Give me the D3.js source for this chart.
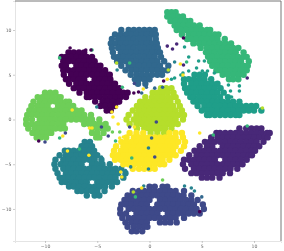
<!DOCTYPE html>
<html>
<head>
<meta charset="utf-8">
<script src="https://cdn.jsdelivr.net/npm/d3@7"></script>
<style>
  html, body { margin: 0; padding: 0; background: #fff; }
  svg { display: block; filter: blur(0.35px); }
</style>
</head>
<body>
<div id="chart"></div>
<script>
// tsne embedding, one list per digit class
// every row is [y, x, x, x...]
const class0 = [
  [7.5,-7.75,-7.25,-6.75,-6.25],
  [7,-8.4,-8,-7.5,-7,-6.5,-6,-5.5],
  [6.5,-8.25,-7.75,-7.25,-6.75,-6.25,-5.75,-5.25],
  [6,-8.4,-8,-7,-6.5,-6,-5.5,-5,-4.7],
  [5.5,-8.25,-7.75,-7.25,-6.75,-6.25,-5.75,-5.25,-4.75,-4.25],
  [5,-8.2,-7.5,-7,-6.5,-6,-5.5,-5,-4.5,-4,-3.8],
  [4.5,-8,-7.75,-7.25,-6.75,-6.25,-5.25,-4.75,-4.25,-3.75],
  [4,-7.7,-7,-6.5,-6,-5.5,-5,-4.5,-4,-3.5,-3.3],
  [3.5,-7.25,-6.75,-6.25,-5.75,-5.25,-4.75,-4.25,-3.75,-3.25,-2.9],
  [3,-6.7,-6,-5.5,-5,-4.5,-4,-3.5,-3,-2.5,-2.1],
  [2.5,-6,-5.75,-5.25,-4.75,-4.25,-3.75,-3.25,-2.75,-2.25],
  [2,-5.2,-4.5,-4,-3.5,-3,-2.9],
  [1.5,-4.7,-4.25,-3.75,-3.3],
  [1,-4.1,-3.7]
];
const class1 = [
  [-1,8.6,9.25,9.75,10.25,10.7],
  [-1.5,6.4,6.75,7.25,7.75,8.25,8.75,9.25,9.75,10.25,10.75,11.25,11.5],
  [-2,5.9,6.5,7,7.5,8,8.5,9,9.5,10,10.5,11,11.3],
  [-2.5,5.3,5.75,6.25,6.75,7.25,7.75,8.25,8.75,9.25,9.75,10.25,10.9],
  [-3,4.8,5.5,6,7,7.5,8,8.5,9,9.5,10,10.5],
  [-3.5,4.3,4.75,5.25,5.75,6.25,6.75,7.25,7.75,8.25,8.75,9.25,9.75,10.1],
  [-4,3.8,4.5,5,5.5,6,6.5,7,7.5,8,8.5,9,9.5,9.8],
  [-4.5,3.3,3.75,4.25,4.75,5.25,5.75,6.25,7.25,7.75,8.25,8.75,9.3],
  [-5,3.2,4,4.5,5,5.5,6,6.5,7,7.5,8,8.5,8.9],
  [-5.5,3.4,4.25,4.75,5.25,5.75,6.25,6.75,7.25,7.75,8.4],
  [-6,4,4.5,5,5.5,6,6.5,7,7.7],
  [-6.5,5,5.5,6,6.7]
];
const class2 = [
  [-7.5,0,0.5,1.25,1.7],
  [-8,-1.6,-1,-0.5,0,0.5,1,1.5,2,2.5,3.3],
  [-8.5,-2.1,-1.75,-1.25,-0.75,-0.25,0.25,0.75,1.25,1.75,2.25,2.75,3.25,4],
  [-9,-2.4,-2,-1.5,-1,-0.5,0,1,1.5,2,2.5,3,3.5,4,4.6],
  [-9.5,-2.7,-2.25,-1.75,-1.25,-0.75,-0.25,0.75,1.25,1.75,2.25,2.75,3.25,3.75,4.25,5.1],
  [-10,-2.8,-2,-1.5,-1,-0.5,0,0.5,1,1.5,2,2.5,3,3.5,4,4.5,5.2],
  [-10.5,-2.8,-2.25,-1.25,-0.75,-0.25,0.25,0.75,1.75,2.25,2.75,3.25,3.75,4.25,4.8],
  [-11,-2.6,-2,-1.5,-1,-0.5,0,0.5,1,1.5,2,2.5,3.3],
  [-11.5,-2.3,-1.75,-1.25,-0.75,-0.25,1,1.5,2,2.6],
  [-12,-2.1,-1.5,-1,-0.5,-0.2],
  [-12.5,-1.7,-1.25,-0.7]
];
const class3 = [
  [10,-2.7,-2,-1.5,-1,-0.5,0,0.5],
  [9.5,-3.3,-2.75,-2.25,-1.75,-1.25,-0.75,-0.25,0.25,0.6],
  [9,-3.6,-3,-2.5,-2,-1.5,-1,-0.5,0,0.6],
  [8.5,-3.7,-3.25,-2.75,-2.25,-1.75,-1.25,-0.75,-0.25,0.25,0.7],
  [8,-3.6,-3,-2.5,-2,-1.5,-1,-0.5,0,0.5,0.8],
  [7.5,-3.5,-2.75,-2.25,-1.75,-1.25,-0.75,-0.25,0.25,0.75,1],
  [7,-3.4,-3,-2.5,-2,-1.5,-1,-0.5,0,0.5,1.1],
  [6.5,-3.1,-2.75,-2.25,-1.75,-1.25,-0.75,-0.25,0.25,0.75,1.4],
  [6,-2.7,-2,-1.5,-1,-0.5,0,0.5,1,1.8],
  [5.5,-2.3,-1.75,-1.25,-0.75,-0.25,0.25,0.75,1.25,1.7],
  [5,-1.8,-1.25,-0.75,-0.25,0.25,0.75,1.2],
  [4.5,-1.4,-1,-0.5,0],
  [4,-1.1,-0.4]
];
const class4 = [
  [-2.5,-6.2,-5.7],
  [-3,-6.5,-6,-5.5],
  [-3.5,-8.1,-7.75,-7.25,-6.75,-6.25,-5.75,-5.3],
  [-4,-8.6,-8,-7.5,-7,-6.5,-6,-5.5,-5],
  [-4.5,-9,-8.25,-7.75,-7.25,-6.75,-6.25,-5.75,-5.25,-4.6],
  [-5,-9.1,-8.5,-8,-7.5,-7,-6.5,-5.5,-5,-4.5,-3.8],
  [-5.5,-9,-8.25,-7.75,-7.25,-6.75,-6.25,-5.75,-5.25,-4.75,-4.25,-3.75,-3.25,-2.7],
  [-6,-8.8,-8,-7.5,-7,-6.5,-6,-5.5,-5,-4.5,-4,-3.5,-3,-2.3],
  [-6.5,-8.6,-8.25,-7.75,-7.25,-6.75,-6.25,-5.75,-5.25,-4.75,-4.25,-3.75,-3.25,-2.5],
  [-7,-8.4,-8,-7.5,-7,-6.5,-6,-5,-4.5,-4,-3.5,-3.1],
  [-7.5,-7.7,-7.25,-6.75,-6.25,-5.75,-5.25,-4.75,-4.25,-3.6],
  [-8,-6.9,-6.5,-6,-5.5,-5,-4.3],
  [-8.5,-6,-5.25,-4.8]
];
const class5 = [
  [5,4.3,4.8,5.3],
  [4.5,3.3,3.75,4.25,4.75,5.25,5.9],
  [4,3.3,4,4.5,5,5.5,6,6.5],
  [3.5,3.4,3.75,4.25,4.75,5.25,5.75,6.25,6.8],
  [3,3.6,4,4.5,5,5.5,6,6.5,7.1],
  [2.5,3.9,4.25,4.75,5.25,5.75,6.25,6.75,7.5],
  [2,4.2,4.5,5,5.5,6,6.5,7,7.5,8,8.6],
  [1.5,4.6,5.25,5.75,6.25,6.75,7.25,7.75,8.25,8.75,9.25,9.75,10.2],
  [1,5,5.5,6,6.5,7,7.5,8,8.5,9,9.5,10,10.7],
  [0.5,5.5,5.75,6.25,6.75,7.25,7.75,8.25,8.6]
];
const class6 = [
  [12,1.7,2.1,2.5],
  [11.5,1.7,2.25,2.75,3.2],
  [11,2,2.5,3,3.5,3.9],
  [10.5,2.4,2.75,3.25,3.75,4.25,4.8],
  [10,2.6,3,3.5,4,4.5,5,5.5,5.8],
  [9.5,3.1,3.75,4.25,4.75,5.25,5.75,6.25,6.6],
  [9,3.6,4,4.5,5,5.5,6,6.5,7.2],
  [8.5,4.2,4.75,5.25,5.75,6.25,6.75,7.25,7.8],
  [8,4.9,5.5,6,6.5,7,7.5,8,8.5],
  [7.5,5.4,5.75,6.25,6.75,7.25,7.75,8.25,9],
  [7,5.6,6,6.5,7,7.5,8,8.5,9,9.3],
  [6.5,5.8,6.25,6.75,7.25,7.75,8.25,8.75,9.5],
  [6,6,6.5,7,7.5,8,8.5,9,9.4],
  [5.5,6.4,6.75,7.25,7.75,8.25,8.75,9.3],
  [5,7,7.5,8,8.5,9],
  [4.5,7.6,8,8.5]
];
const class7 = [
  [3,-10,-9.5,-9],
  [2.5,-10.7,-10.25,-9.75,-9.25,-8.75,-8.5],
  [2,-11.1,-10.5,-10,-9.5,-9,-8.5,-8,-7.7],
  [1.5,-11.3,-10.75,-10.25,-9.75,-8.75,-8.25,-7.75,-7.3],
  [1,-11.5,-11,-10.5,-10,-9.5,-9,-8.5,-8,-7.5,-7,-6.5],
  [0.5,-11.7,-11.25,-10.75,-10.25,-9.75,-9.25,-8.75,-8.25,-7.75,-7.25,-6.75,-6.25,-5.6],
  [0,-11.8,-11.25,-10.5,-10,-9.5,-9,-8.5,-8,-7.5,-7,-6.5,-6,-5.5,-4.8],
  [-0.5,-11.8,-11.25,-10.75,-10.25,-9.75,-9.25,-8.75,-8.25,-6.25,-5.75,-5.25,-4.75,-4.2],
  [-1,-11.6,-11,-10.5,-10,-9.5,-9,-8.5,-8.1,-5.5,-5,-4.5,-4],
  [-1.5,-11.2,-10.75,-10.25,-9.75,-9.4,-5.5,-5,-4.4],
  [-2,-10.8,-10.4,-9.9,-5.1,-4.8]
];
const class8 = [
  [3.5,1.1,1.6,2.1],
  [3,0.3,0.75,1.25,1.75,2.3],
  [2.5,-0.4,0.25,0.75,1.25,1.75,2.25,2.5],
  [2,-0.9,-0.5,0,0.5,1,1.5,2,2.7],
  [1.5,-1.2,-0.75,-0.25,0.25,0.75,1.25,1.75,2.25,2.9],
  [1,-1.6,-1,-0.5,0,0.5,1,1.5,2,2.5,3.1],
  [0.5,-2,-1.25,-0.75,-0.25,0.25,0.75,1.25,1.75,2.25,2.75,3.3],
  [0,-2.2,-1.5,-1,-0.5,0,0.5,1,1.5,2,2.5,3.2],
  [-0.5,-1.9,-1.25,-0.75,-0.25,0.25,0.75,1.25,1.75,2.25,2.7],
  [-1,-1.2,-0.5,0,0.5,1,1.5,2.1],
  [-1.5,0.1,0.75,1.4]
];
const class9 = [
  [-1.5,-1.9,-1.25,-0.6,1.9,2.5,3.1],
  [-2,-2.2,-1.5,-1,-0.5,0,0.5,1,1.5,2,2.5,3.2],
  [-2.5,-2.7,-2.25,-1.75,-1.25,-0.75,-0.25,0.25,0.75,1.25,1.75,2.25,2.75,3.4],
  [-3,-3.2,-2.5,-2,-1.5,-1,-0.5,0,0.5,1,1.5,2,2.5,3.3],
  [-3.5,-3.4,-2.75,-2.25,-1.75,-1.25,-0.75,-0.25,0.25,0.75,1.25,1.75,2.25,3],
  [-4,-3.5,-3,-2.5,-2,-1.5,-1,-0.5,0,0.5,1,1.5,2,2.5],
  [-4.5,-3.3,-2.75,-2.25,-1.75,-1.25,-0.75,-0.25,0.25,0.75,1.25,1.9],
  [-5,-2.5,-2,-1.5,-1,-0.5,0,0.5,1,1.4],
  [-5.5,-1.6,-1,-0.5,0,0.5]
];
const classRows = [class0, class1, class2, class3, class4, class5, class6, class7, class8, class9];

// points sitting outside their own cluster: [x, y, class]
const strays = [
  [-7.6,7.98,0],[-5.5,7.76,6],[-8.6,6.88,6],[-6.1,7.76,0],[-5.6,7.76,0],[-3.1,5.53,4],[-3.15,6.31,8],[-1.9,6.31,6],
  [-5.05,1.39,4],[-3.15,1.39,9],[-3.6,0.84,9],[-3.5,0.28,9],[-3,-0.5,9],[-7.4,1.06,9],[-2.6,3.6,6],[-1.5,2.96,0],
  [-1.05,3.07,0],[-1.45,4.02,2],[3.25,9.1,0],[3.35,8.1,5],[2.6,8.44,1],[2.2,7.88,1],[1.7,8.2,1],[2.4,6.42,4],
  [1.8,5.53,8],[2.95,6.2,9],[3.25,6.09,1],[3.55,6.42,6],[3.75,6.98,5],[4.7,6.53,5],[5.25,6.53,5],[4.5,5.75,5],
  [5.05,5.42,5],[5.55,5.42,5],[6.2,5.2,5],[3.2,5.2,5],[3,4.97,5],[3.2,4.97,9],[3.75,5.42,5],[1.35,4.3,0],
  [1.7,4.5,9],[2.1,4.5,5],[2.4,4.63,5],[7.55,3.85,5],[8.6,3.75,5],[7.75,3.18,5],[8.6,3.18,5],[7.85,2.51,5],
  [9.35,4.63,1],[10.8,1.28,8],[0.5,3.5,3],[1.25,3.6,3],[-0.3,3.6,3],[-0.75,2.96,3],[-0.6,3.4,9],[0.65,-0.28,2],
  [-5.75,-0.95,9],[-5.5,-0.95,9],[-8.05,-1.51,2],[-8.3,-1.84,9],[-8.6,-2.07,6],[-10,-2.51,2],[-10.6,-2.4,0],
  [-3.55,-1.4,7],[-4.6,-0.84,2],[-3.95,-1.84,2],[-2.85,-1.4,7],[-3.25,-2.4,6],[-2.85,-2.07,9],[-2.5,-1.96,9],
  [-2.1,-1.96,9],[-1.9,-0.84,2],[-1.45,-0.84,9],[-5.8,-4,9],[-4.6,-4.19,4],[-7.85,-3.52,9],[-6.7,-3.3,6],
  [-2.75,-5.87,9],[-2.65,-6.43,9],[-2.3,-5.7,4],[-1.8,-5.3,4],[-1.7,-4.3,6],[-1.55,-8.1,8],[-1.35,-8.65,6],
  [4.8,-1.51,9],[6.1,-1.74,6],[9.35,-0.73,6],[1.25,-6.76,7],[0.2,-2.07,3],[-0.1,-3.18,4],[0.5,-4.19,2],
  [-0.1,-5.53,4],[-0.55,-7.43,4],[-0.75,-7.65,9],[3.35,-7.43,4],[4,-7.65,4],[4.3,-7.99,4],[5,-8.65,3],[4.8,-10.3,0]
];

const xTicks = [-10, -5, 0, 5, 10];
const yTicks = [-10, -5, 0, 5, 10];
const classColors = ["#440154", "#482878", "#3e4989", "#31688e", "#26828e", "#1f9e89", "#35b779", "#6ece58", "#b5de2b", "#fde725"];

const chartW = 284;
const chartH = 251;
const plotLeft = 15, plotRight = 281, plotTop = 1, plotBottom = 241;

const svg = d3.select("#chart").append("svg")
  .attr("width", chartW)
  .attr("height", chartH);

const xScale = d3.scaleLinear().domain([-12.87, 12.58]).range([plotLeft, plotRight]);
const yScale = d3.scaleLinear().domain([-13.58, 13.24]).range([plotBottom, plotTop]);

// flatten the rows into points
const points = [];
classRows.forEach((rows, c) => {
  rows.forEach(row => {
    row.slice(1).forEach(v => points.push({ x: v, y: row[0], c: c }));
  });
});

svg.selectAll("circle.pt")
  .data(points)
  .enter()
  .append("circle")
  .attr("class", "pt")
  .attr("cx", d => xScale(d.x))
  .attr("cy", d => yScale(d.y))
  .attr("r", 3.2)
  .attr("fill", d => classColors[d.c]);

svg.selectAll("circle.stray")
  .data(strays)
  .enter()
  .append("circle")
  .attr("class", "stray")
  .attr("cx", d => xScale(d[0]))
  .attr("cy", d => yScale(d[1]))
  .attr("r", 1.8)
  .attr("fill", d => classColors[d[2]]);

// axes
const xAxis = d3.axisBottom(xScale).tickValues(xTicks).tickSize(2).tickPadding(1.5).tickFormat(d => String(d).replace("-", "\u2212"));
const yAxis = d3.axisLeft(yScale).tickValues(yTicks).tickSize(2).tickPadding(1.5).tickFormat(d => String(d).replace("-", "\u2212"));

const gx = svg.append("g").attr("transform", "translate(0," + plotBottom + ")").call(xAxis);
const gy = svg.append("g").attr("transform", "translate(" + plotLeft + ",0)").call(yAxis);

[gx, gy].forEach(g => {
  g.selectAll(".tick line").attr("stroke", "#999").attr("stroke-width", 0.5);
  g.selectAll("text").attr("font-family", "DejaVu Sans").attr("font-size", 4.6).attr("fill", "#666");
  g.select(".domain").attr("stroke", "#e4e4e4").attr("stroke-width", 1);
});

// top and right spines are the dark ones
svg.append("line").attr("x1", plotLeft).attr("x2", plotRight).attr("y1", plotTop).attr("y2", plotTop)
  .attr("stroke", "#777").attr("stroke-width", 1);
svg.append("line").attr("x1", plotRight).attr("x2", plotRight).attr("y1", plotTop).attr("y2", plotBottom)
  .attr("stroke", "#777").attr("stroke-width", 1);
</script>
</body>
</html>
